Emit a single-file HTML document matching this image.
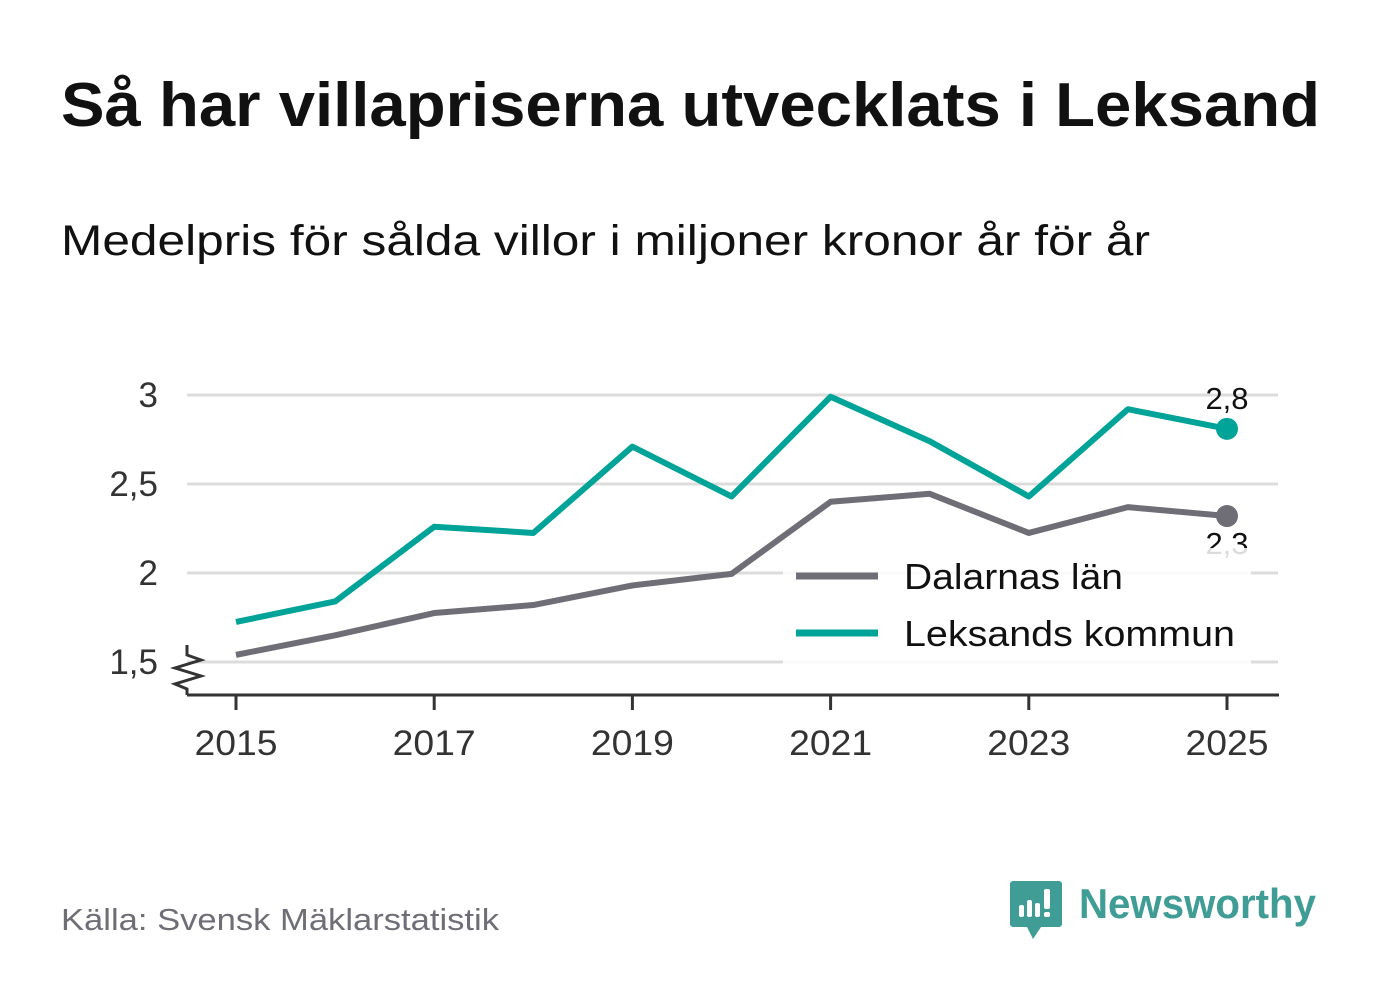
<!DOCTYPE html>
<html><head><meta charset="utf-8"><style>
body{margin:0;background:#fff;width:1382px;height:999px;overflow:hidden;font-family:"Liberation Sans","DejaVu Sans",sans-serif}
</style></head><body>
<svg width="1382" height="999">
<text x="61" y="126" font-size="62" font-weight="bold" fill="#111" textLength="1259" lengthAdjust="spacingAndGlyphs">Så har villapriserna utvecklats i Leksand</text>
<text x="61" y="255" font-size="43" fill="#111" textLength="1089" lengthAdjust="spacingAndGlyphs">Medelpris för sålda villor i miljoner kronor år för år</text>
<g id="grid"></g>
<g id="yt"></g>
<g id="xt"></g>
<g id="series"></g>
<rect x="783" y="548" width="468" height="117" fill="#fff" fill-opacity="0.85"/>
<line x1="796" y1="576" x2="878" y2="576" stroke="#6f6e76" stroke-width="7"/>
<text x="904" y="589" font-size="36" fill="#111" textLength="219" lengthAdjust="spacingAndGlyphs">Dalarnas län</text>
<line x1="796" y1="633" x2="878" y2="633" stroke="#00a398" stroke-width="7"/>
<text x="904" y="646" font-size="36" fill="#111" textLength="331" lengthAdjust="spacingAndGlyphs">Leksands kommun</text>
<text x="61" y="930" font-size="31" fill="#6f6e76" textLength="438" lengthAdjust="spacingAndGlyphs">Källa: Svensk Mäklarstatistik</text>
<g>
<path d="M1013 881 h46 a3 3 0 0 1 3 3 v40 a3 3 0 0 1 -3 3 h-18 l-8 12 l-6 -12 h-14 a3 3 0 0 1 -3 -3 v-40 a3 3 0 0 1 3 -3z" fill="#3f9d95"/>
<rect x="1019" y="905" width="5" height="12" rx="2" fill="#fff"/><rect x="1027" y="900" width="5" height="17" rx="2" fill="#fff"/><rect x="1035" y="903" width="5" height="14" rx="2" fill="#fff"/><rect x="1044" y="889" width="6" height="20" rx="2" fill="#fff"/><rect x="1044" y="912" width="6" height="5" rx="2" fill="#fff"/>
<text x="1079" y="918" font-size="42" font-weight="bold" fill="#3f9d95" textLength="237" lengthAdjust="spacingAndGlyphs">Newsworthy</text>
</g>
</svg>
<script>
const years=[2015,2016,2017,2018,2019,2020,2021,2022,2023,2024,2025];
const leksand=[1.725,1.84,2.26,2.225,2.71,2.43,2.99,2.74,2.43,2.92,2.81];
const dalarna=[1.54,1.65,1.775,1.82,1.93,1.995,2.40,2.445,2.225,2.37,2.32];
const yTicks=[1.5,2,2.5,3];
const yLabels=["1,5","2","2,5","3"];
const xTicks=[2015,2017,2019,2021,2023,2025];
const endLabels=["2,3","2,8"];
const NS="http://www.w3.org/2000/svg";
const X=v=>236+(v-2015)*99.1;
const Y=v=>662-(v-1.5)*178;
function mk(t,a,p){const e=document.createElementNS(NS,t);for(const k in a)e.setAttribute(k,a[k]);p.appendChild(e);return e;}
const grid=document.getElementById('grid'),yt=document.getElementById('yt'),xt=document.getElementById('xt'),ser=document.getElementById('series');
yTicks.forEach((v,i)=>{
 const l=mk('line',{x1:187,x2:1278,y1:Y(v),y2:Y(v),stroke:'#dcdcdc','stroke-width':3},grid);
 
 
 const t=mk('text',{x:158,y:Y(v)+12,'font-size':35,fill:'#333','text-anchor':'end'},yt);t.textContent=yLabels[i];
 
 
});
mk('line',{x1:187,x2:1279,y1:695,y2:695,stroke:'#333','stroke-width':3},xt);
mk('polyline',{points:'187,645 187,655 201,660 175,668 201,676 175,684 187,689 187,695',fill:'none',stroke:'#333','stroke-width':3},yt);
xTicks.forEach(v=>{
 mk('line',{x1:X(v),x2:X(v),y1:695,y2:710,stroke:'#333','stroke-width':3},xt);
 const t=mk('text',{x:X(v),y:755,'font-size':35,fill:'#333','text-anchor':'middle',textLength:83,lengthAdjust:'spacingAndGlyphs'},xt);t.textContent=v;
 
 
});
[[dalarna,'#6f6e76','dalarna',1],[leksand,'#00a398','leksand',-1]].forEach(([d,c,n,dir],k)=>{
 const p=mk('polyline',{points:d.map((v,i)=>X(years[i])+','+Y(v)).join(' '),fill:'none',stroke:c,'stroke-width':6,'stroke-linejoin':'round'},ser);
 
 
 const last=d.length-1;
 const dot=mk('circle',{cx:X(years[last]),cy:Y(d[last]),r:11,fill:c},ser);
 
 
 const t=mk('text',{x:X(years[last]),y:Y(d[last])+(dir>0?38:-20),'font-size':31,fill:'#111','text-anchor':'middle'},ser);
 t.textContent=endLabels[k];
 
 
});
</script>
</body></html>
